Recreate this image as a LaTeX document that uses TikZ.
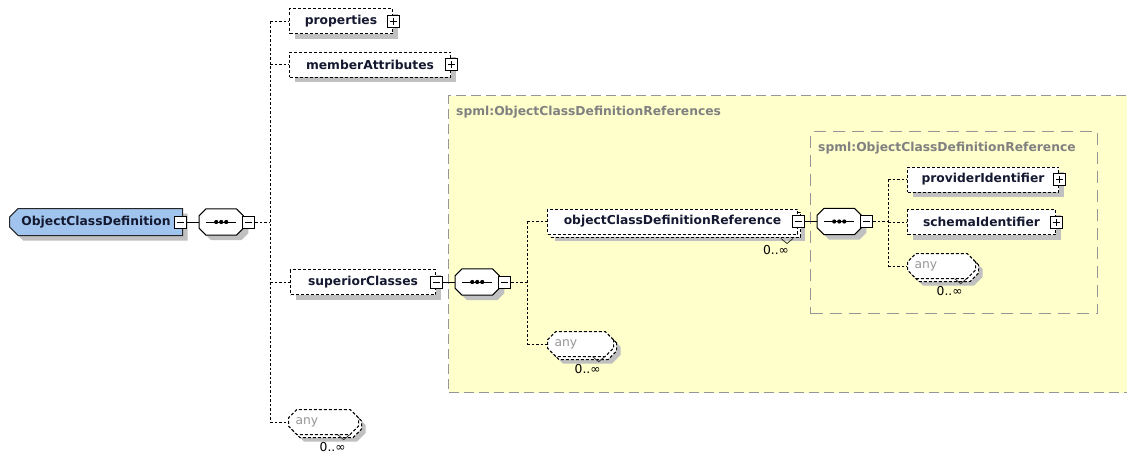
\documentclass[tikz,border=0pt]{standalone}
\usepackage{fontspec}
\setmainfont{DejaVu Sans}
\usetikzlibrary{shapes.misc,shadows}
\definecolor{shadowgray}{RGB}{192,192,192}
\definecolor{frameyellow}{RGB}{255,255,204}
\definecolor{framegray}{RGB}{150,150,150}
\definecolor{labelgray}{RGB}{128,128,128}
\definecolor{anygray}{RGB}{150,150,150}
\definecolor{ocdblue}{RGB}{160,196,238}
\definecolor{elemtext}{RGB}{20,24,48}
\newcommand{\elemfont}{\fontsize{12.3}{14}\selectfont\bfseries}
\newcommand{\plainfont}{\fontsize{12.3}{14}\selectfont}
% octagon outline of a sequence compositor, drawn round an invisible named node
\newcommand{\drawseqoct}[1]{%
  \draw[seqline, fill=white, preaction={fill=shadowgray, draw=none, transform canvas={xshift=5pt,yshift=-5pt}}] ([shift={(7,0)}]#1.north west) -- ([shift={(-7,0)}]#1.north east) -- ([shift={(0,7)}]#1.north east) -- ([shift={(0,-7)}]#1.south east) -- ([shift={(-7,0)}]#1.south east) -- ([shift={(7,0)}]#1.south west) -- ([shift={(0,-7)}]#1.south west) -- ([shift={(0,7)}]#1.north west) -- cycle;
  \draw[seqline] ([shift={(-15,0)}]#1.center) -- ([shift={(15,0)}]#1.center);
  \fill ([shift={(-5,0)}]#1.center) circle (2.1pt) (#1.center) circle (2.1pt) ([shift={(5,0)}]#1.center) circle (2.1pt);
}
\tikzset{
  conn/.style={draw=black, line width=1pt, dash pattern=on 2.5pt off 2pt},
  solidconn/.style={draw=black, line width=1pt},
  seqline/.style={draw=black, line width=1pt},
  elemshadow/.style={drop shadow={shadow xshift=5pt, shadow yshift=-5pt, fill=shadowgray, opacity=1}},
  bigshadow/.style={drop shadow={shadow xshift=7pt, shadow yshift=-7pt, fill=shadowgray, opacity=1}},
  dashborder/.style={draw=black, line width=1pt, dash pattern=on 3pt off 2pt},
  copyback/.style={copy shadow={shadow xshift=3pt, shadow yshift=-3pt, draw=black, line width=1pt, dash pattern=on 3pt off 2pt, fill=white}},
  elem/.style={rectangle, dashborder, fill=white, font=\elemfont, text=elemtext, minimum height=25pt, inner sep=0pt, anchor=west, elemshadow},
  multielem/.style={rectangle, bigshadow, copyback, dashborder, fill=white, font=\elemfont, text=elemtext, minimum height=25pt, inner sep=0pt, anchor=west},
  anyelem/.style={chamfered rectangle, chamfered rectangle xsep=5pt, bigshadow, copyback, dashborder, fill=white, font=\plainfont, text=anygray, minimum height=25pt, inner sep=0pt, anchor=west},
  ocdstyle/.style={chamfered rectangle, chamfered rectangle corners={north west,south west}, chamfered rectangle xsep=5pt, draw=black!85, fill=ocdblue, line width=1pt, font=\elemfont, text=elemtext, minimum height=27pt, inner sep=0pt, anchor=west, elemshadow},
  seqbox/.style={rectangle, minimum width=44pt, minimum height=26pt, inner sep=0pt, anchor=west},
  minusbox/.style={rectangle, draw=black, line width=1pt, fill=white, minimum size=12pt, inner sep=0pt,
    path picture={\draw[line width=1pt] ([xshift=2.5pt]path picture bounding box.west) -- ([xshift=-2.5pt]path picture bounding box.east);}},
  plusbox/.style={minusbox,
    path picture={\draw[line width=1pt] ([xshift=2.5pt]path picture bounding box.west) -- ([xshift=-2.5pt]path picture bounding box.east)
       ([yshift=2.5pt]path picture bounding box.south) -- ([yshift=-2.5pt]path picture bounding box.north);}},
  framebox/.style={rectangle, draw=framegray, line width=1pt, inner sep=0pt, anchor=north west},
  framelabel/.style={font=\elemfont, text=labelgray, inner sep=0pt, anchor=west},
  occ/.style={font=\plainfont, text=black, inner sep=0pt},
  notch/.style={draw=black!80, line width=0.8pt}
}
\begin{document}
\begin{tikzpicture}[x=1pt,y=-1pt]
\clip (0,0) rectangle (1127,455);
\fill[white] (0,0) rectangle (1127,455);

% frames
\node[framebox, fill=frameyellow, dash pattern=on 10pt off 5pt, minimum width=700pt, minimum height=297pt] (outerframe) at (448,95) {};
\node[framelabel] (outerlabel) at (456,112) {spml:ObjectClassDefinitionReferences};
\node[framebox, dash pattern=on 12pt off 7pt, minimum width=287pt, minimum height=182pt] (innerframe) at (810,131) {};
\node[framelabel] (innerlabel) at (818,148) {spml:ObjectClassDefinitionReference};

% root
\node[ocdstyle, minimum width=173pt] (ocd) at (9,222) {ObjectClassDefinition};
\node[minusbox] (ocdm) at ([shift={(-3,0)}]ocd.east) {};
\node[seqbox] (seq1) at (199,222) {};
\drawseqoct{seq1}
\node[minusbox, anchor=west] (seq1m) at ([shift={(-1,0)}]seq1.east) {};

% level 1
\node[elem, minimum width=103pt] (props) at (289,21) {properties};
\node[plusbox] (propsp) at (props.east) {};
\node[elem, minimum width=161pt] (member) at (289,64.5) {memberAttributes};
\node[plusbox] (memberp) at (member.east) {};
\node[elem, minimum width=145pt] (superior) at (290,282) {superiorClasses};
\node[minusbox] (superiorm) at (superior.east) {};
\node[anyelem, minimum width=70pt] (anyO) at (288,422) {\makebox[56pt][l]{any}};

% level 2
\node[seqbox] (seq2) at (455,282) {};
\drawseqoct{seq2}
\node[minusbox, anchor=west] (seq2m) at ([shift={(-1,0)}]seq2.east) {};
\node[multielem, minimum width=250pt] (ocdref) at (547,221.5) {objectClassDefinitionReference};
\node[minusbox] (ocdrefm) at (ocdref.east) {};
\node[anyelem, minimum width=66pt] (anyM) at (547,344) {\makebox[52pt][l]{any}};

% level 3
\node[seqbox] (seq3) at (817,221.5) {};
\drawseqoct{seq3}
\node[minusbox, anchor=west] (seq3m) at ([shift={(-1,0)}]seq3.east) {};
\node[elem, minimum width=151pt] (provider) at (907,179.5) {providerIdentifier};
\node[plusbox] (providerp) at (provider.east) {};
\node[elem, minimum width=148pt] (schema) at (907,222) {schemaIdentifier};
\node[plusbox] (schemap) at (schema.east) {};
\node[anyelem, minimum width=68pt] (anyI) at (907,266) {\makebox[54pt][l]{any}};

% occurrence labels and notches
\foreach \n in {ocdref, anyM, anyI, anyO}{
  \draw[notch] ([shift={(-17,4)}]\n.south east) -- ([shift={(-11,9)}]\n.south east) -- ([shift={(-5,4)}]\n.south east);
  \node[occ] (\n occ) at ([shift={(-22,16)}]\n.south east) {0..∞};
}

% connectors level 1
\coordinate (t1) at (270,0);
\draw[solidconn] (ocdm.east) -- (seq1.west);
\draw[conn] (seq1m.east) -- (seq1m.east -| t1);
\draw[conn] (props.west -| t1) -- (anyO.west -| t1);
\foreach \n in {props, member, superior, anyO}{
  \draw[conn] (\n.west -| t1) -- (\n.west);
}

% connectors level 2
\coordinate (t2) at (527,0);
\draw[solidconn] (superiorm.east) -- (seq2.west);
\draw[conn] (seq2m.east) -- (seq2m.east -| t2);
\draw[conn] (ocdref.west -| t2) -- (anyM.west -| t2);
\foreach \n in {ocdref, anyM}{
  \draw[conn] (\n.west -| t2) -- (\n.west);
}

% connectors level 3
\coordinate (t3) at (888,0);
\draw[solidconn] (ocdrefm.east) -- (seq3.west);
\draw[conn] (seq3m.east) -- (seq3m.east -| t3);
\draw[conn] (provider.west -| t3) -- (anyI.west -| t3);
\foreach \n in {provider, schema, anyI}{
  \draw[conn] (\n.west -| t3) -- (\n.west);
}
\end{tikzpicture}
\end{document}
